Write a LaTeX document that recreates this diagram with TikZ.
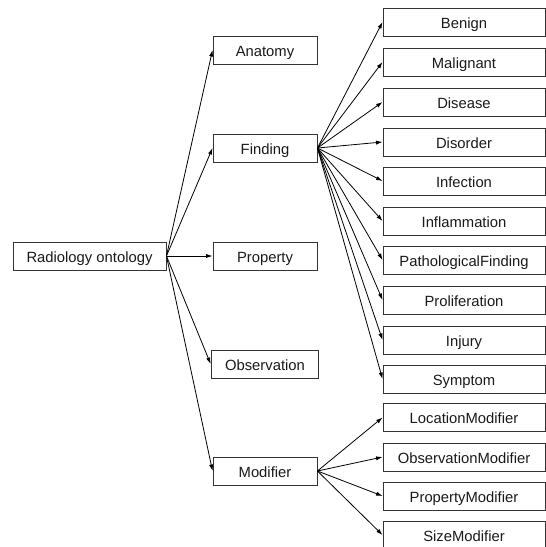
\documentclass[tikz,border=0pt]{standalone}
\usepackage{fontspec}
\setmainfont{Liberation Sans}
\usetikzlibrary{arrows.meta}
\begin{document}
\begin{tikzpicture}[x=1pt,y=-1pt,
  box/.style={draw=black!80,line width=0.9pt,minimum height=28pt,inner sep=0pt,
    text height=12.4pt,text depth=0pt,
    font=\fontsize{14.8}{17}\selectfont,text=black!90},
  rootbox/.style={box,minimum width=153pt},
  midbox/.style={box,minimum width=104pt,inner xsep=14pt},
  leafbox/.style={box,minimum width=162pt},
  link/.style={line width=0.8pt,-{Latex[length=6.5pt,width=4.2pt]}}]
\useasboundingbox (0,0) rectangle (546,547);
\begin{scope}
\clip (0,0) rectangle (546,547);
% root
\node[rootbox] (root) at (89.5,256) {Radiology ontology};
% second level
\node[midbox] (anat) at (265,50) {Anatomy};
\node[midbox] (find) at (265,148) {Finding};
\node[midbox] (prop) at (265,256) {Property};
\node[midbox] (obs)  at (265,364) {Observation};
\node[midbox] (mod)  at (265,471) {Modifier};
% finding kinds
\node[leafbox] (benign) at (464,22) {Benign};
\node[leafbox] (malig)  at (464,62) {Malignant};
\node[leafbox] (dis)    at (464,102) {Disease};
\node[leafbox] (disord) at (464,142) {Disorder};
\node[leafbox] (infec)  at (464,181) {Infection};
\node[leafbox] (infl)   at (464,221) {Inflammation};
\node[leafbox] (patho)  at (464,260) {PathologicalFinding};
\node[leafbox] (prolif) at (464,300) {Proliferation};
\node[leafbox] (inj)    at (464,340) {Injury};
\node[leafbox] (symp)   at (464,379) {Symptom};
% modifier kinds
\node[leafbox] (locm)  at (464,417.5) {LocationModifier};
\node[leafbox] (obsm)  at (464,457) {ObservationModifier};
\node[leafbox] (propm) at (464,496) {PropertyModifier};
\node[leafbox] (sizem) at (464,535) {SizeModifier};
% connectors
\foreach \t in {anat,find,prop,obs,mod}
  \draw[link] (root.east) -- (\t.west);
\foreach \t in {benign,malig,dis,disord,infec,infl,patho,prolif,inj,symp}
  \draw[link] (find.east) -- (\t.west);
\foreach \t in {locm,obsm,propm,sizem}
  \draw[link] (mod.east) -- (\t.west);
\end{scope}
\end{tikzpicture}
\end{document}
